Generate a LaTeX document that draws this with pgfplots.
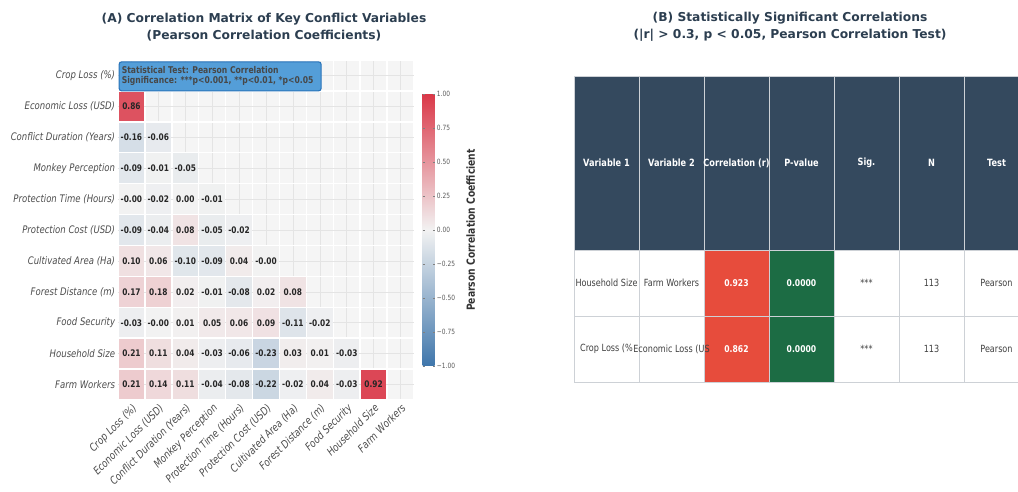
\documentclass[border=0pt]{standalone}
\usepackage{fontspec}
\setmainfont{DejaVu Sans}[FakeStretch=0.82]
\newfontfamily\titlefont{DejaVu Sans}
\usepackage{pgfplots}
\pgfplotsset{compat=1.18}
\usepackage{pgfplotstable}

\definecolor{titlec}{RGB}{44,62,80}
\definecolor{hdr}{RGB}{52,73,94}
\definecolor{cred}{RGB}{231,76,60}
\definecolor{cgreen}{RGB}{28,108,68}
\definecolor{tline}{RGB}{205,209,214}
\definecolor{boxfill}{RGB}{84,158,216}
\definecolor{boxdraw}{RGB}{40,115,185}
\definecolor{bgc}{RGB}{245,245,245}
\definecolor{gridc}{RGB}{228,228,228}

\pgfdeclareplotmark{cell}{\pgfpathrectangle{\pgfpoint{-9.55pt}{-11.05pt}}{\pgfpoint{19.1pt}{22.1pt}}\pgfusepathqfill}

\pgfplotstableread{
x y r lab
0 1 0.86 0.86
0 2 -0.16 -0.16
1 2 -0.06 -0.06
0 3 -0.09 -0.09
1 3 -0.01 -0.01
2 3 -0.05 -0.05
0 4 -0.00 -0.00
1 4 -0.02 -0.02
2 4 0.00 0.00
3 4 -0.01 -0.01
0 5 -0.09 -0.09
1 5 -0.04 -0.04
2 5 0.08 0.08
3 5 -0.05 -0.05
4 5 -0.02 -0.02
0 6 0.10 0.10
1 6 0.06 0.06
2 6 -0.10 -0.10
3 6 -0.09 -0.09
4 6 0.04 0.04
5 6 -0.00 -0.00
0 7 0.17 0.17
1 7 0.18 0.18
2 7 0.02 0.02
3 7 -0.01 -0.01
4 7 -0.08 -0.08
5 7 0.02 0.02
6 7 0.08 0.08
0 8 -0.03 -0.03
1 8 -0.00 -0.00
2 8 0.01 0.01
3 8 0.05 0.05
4 8 0.06 0.06
5 8 0.09 0.09
6 8 -0.11 -0.11
7 8 -0.02 -0.02
0 9 0.21 0.21
1 9 0.11 0.11
2 9 0.04 0.04
3 9 -0.03 -0.03
4 9 -0.06 -0.06
5 9 -0.23 -0.23
6 9 0.03 0.03
7 9 0.01 0.01
8 9 -0.03 -0.03
0 10 0.21 0.21
1 10 0.14 0.14
2 10 0.11 0.11
3 10 -0.04 -0.04
4 10 -0.08 -0.08
5 10 -0.22 -0.22
6 10 -0.02 -0.02
7 10 0.04 0.04
8 10 -0.03 -0.03
9 10 0.92 0.92
}\corr

\tikzset{hd/.style={font=\fontsize{7.5pt}{9pt}\selectfont\bfseries, text=white, inner sep=0pt},
  td/.style={font=\fontsize{7.4pt}{9pt}\selectfont, text=black!75, inner sep=0pt},
  tw/.style={font=\fontsize{7pt}{9pt}\selectfont\bfseries, text=white, inner sep=0pt},
  tl/.style={tline, line width=0.7pt}}

\begin{document}
\begin{tikzpicture}
% ---------------- (A) heatmap ----------------
\begin{axis}[
  at={(88.5pt,69pt)}, anchor=south west,
  scale only axis, width=222pt, height=255pt,
  xmin=-0.5, xmax=10.5, ymin=-0.5, ymax=10.5, y dir=reverse,
  axis line style={draw=none},
  axis background/.style={fill=bgc},
  xtick={0,...,10}, ytick={0,...,10},
  xticklabels={Crop Loss (\%),Economic Loss (USD),Conflict Duration (Years),Monkey Perception,Protection Time (Hours),Protection Cost (USD),Cultivated Area (Ha),Forest Distance (m),Food Security,Household Size,Farm Workers},
  yticklabels={Crop Loss (\%),Economic Loss (USD),Conflict Duration (Years),Monkey Perception,Protection Time (Hours),Protection Cost (USD),Cultivated Area (Ha),Forest Distance (m),Food Security,Household Size,Farm Workers},
  major tick length=0pt, minor tick length=0pt,
  minor xtick={-0.5,0.5,...,10.5}, minor ytick={-0.5,0.5,...,10.5},
  grid=both,
  major grid style={draw=gridc, line width=0.4pt},
  minor grid style={draw=white, line width=1.1pt},
  xticklabel style={rotate=45, anchor=north east, font=\fontsize{8.1pt}{9pt}\selectfont\itshape, text=black!70, inner sep=1.5pt},
  yticklabel style={font=\fontsize{7.8pt}{9pt}\selectfont\itshape, text=black!70, inner sep=2pt},
  colormap={corr}{rgb255(0cm)=(63,118,171); rgb255(1cm)=(242,242,242); rgb255(2cm)=(218,56,72)},
  point meta min=-1, point meta max=1,
  colorbar,
  colorbar shift/.style={},
  colorbar style={
    at={(parent axis.east)}, anchor=west, xshift=6.5pt,
    width=9pt, height=204pt,
    axis line style={draw=none},
    ytick={-1,-0.75,-0.5,-0.25,0,0.25,0.5,0.75,1},
    yticklabels={−1.00,−0.75,−0.50,−0.25,0.00,0.25,0.50,0.75,1.00},
    yticklabel style={font=\fontsize{5.4pt}{6pt}\selectfont, text=black!65, inner sep=1.5pt},
    major tick length=1.5pt,
    every tick/.style={draw=black!50, line width=0.3pt},
    ylabel={Pearson Correlation Coefficient},
    every axis y label/.style={at={(rel axis cs:1,0.5)}, xshift=27pt, rotate=90, anchor=center, font=\fontsize{8.4pt}{9pt}\selectfont\bfseries, text=black!80},
  },
]
\addplot[scatter, only marks, mark=cell, point meta=explicit,
  scatter/use mapped color={draw=none, fill=mapped color}]
  table[x=x, y=y, meta=r]{\corr};
\addplot[only marks, mark=none, point meta=explicit symbolic,
  nodes near coords, nodes near coords align={center},
  every node near coord/.append style={anchor=center, font=\fontsize{6.8pt}{8pt}\selectfont\bfseries, text=black!85, inner sep=0pt}]
  table[x=x, y=y, meta=lab]{\corr};
\draw[boxdraw, fill=boxfill, rounded corners=2pt, line width=0.8pt] (axis cs:-0.46,-0.44) rectangle (axis cs:7.05,0.5);
\node[anchor=west, align=left, font=\fontsize{7pt}{7.6pt}\selectfont\bfseries, text=black!72, inner sep=0pt] at (axis cs:-0.37,0.03) {Statistical Test: Pearson Correlation\\Significance: ***p<0.001, **p<0.01, *p<0.05};
\end{axis}

% ---------------- (B) table ----------------
\begin{axis}[
  at={(430.5pt,82.5pt)}, anchor=south west,
  scale only axis, width=341.25pt, height=229.5pt,
  xmin=0, xmax=7, ymin=0, ymax=306, hide axis, clip=false]
\addplot[draw=none, mark=none, forget plot] coordinates {(0,0) (7,306)};
\fill[hdr] (axis cs:0,132) rectangle (axis cs:7,306);
\fill[cred] (axis cs:2,0) rectangle (axis cs:3,132);
\fill[cgreen] (axis cs:3,0) rectangle (axis cs:4,132);
\draw[tl] (axis cs:0,0) -- (axis cs:0,306);
\draw[tl] (axis cs:1,0) -- (axis cs:1,306);
\draw[tl] (axis cs:2,0) -- (axis cs:2,306);
\draw[tl] (axis cs:3,0) -- (axis cs:3,306);
\draw[tl] (axis cs:4,0) -- (axis cs:4,306);
\draw[tl] (axis cs:5,0) -- (axis cs:5,306);
\draw[tl] (axis cs:6,0) -- (axis cs:6,306);
\draw[tl] (axis cs:7,0) -- (axis cs:7,306);
\draw[tl] (axis cs:0,0) -- (axis cs:7,0);
\draw[tl] (axis cs:0,66) -- (axis cs:7,66);
\draw[tl] (axis cs:0,132) -- (axis cs:7,132);
\draw[tl] (axis cs:0,306) -- (axis cs:7,306);
% header
\node[hd] at (axis cs:0.5,219) {Variable 1};
\node[hd] at (axis cs:1.5,219) {Variable 2};
\node[hd] at (axis cs:2.5,219) {Correlation (r)};
\node[hd] at (axis cs:3.5,219) {P-value};
\node[hd] at (axis cs:4.5,219) {Sig.};
\node[hd] at (axis cs:5.5,219) {N};
\node[hd] at (axis cs:6.5,219) {Test};
% row 1
\node[td] at (axis cs:0.5,99) {Household Size};
\node[td] at (axis cs:1.5,99) {Farm Workers};
\node[tw] at (axis cs:2.5,99) {0.923};
\node[tw] at (axis cs:3.5,99) {0.0000};
\node[td] at (axis cs:4.5,99) {***};
\node[td] at (axis cs:5.5,99) {113};
\node[td] at (axis cs:6.5,99) {Pearson};
% row 2
\node[td] at (axis cs:0.5,33) {Crop Loss (\%};
\node[td] at (axis cs:1.5,33) {Economic Loss (US};
\node[tw] at (axis cs:2.5,33) {0.862};
\node[tw] at (axis cs:3.5,33) {0.0000};
\node[td] at (axis cs:4.5,33) {***};
\node[td] at (axis cs:5.5,33) {113};
\node[td] at (axis cs:6.5,33) {Pearson};
\end{axis}

% titles
\node[align=center, font=\titlefont\fontsize{9.2pt}{12.75pt}\selectfont\bfseries, text=titlec] at (198pt,349pt) {(A) Correlation Matrix of Key Conflict Variables\\(Pearson Correlation Coefficients)};
\node[align=center, font=\titlefont\fontsize{9.2pt}{12.75pt}\selectfont\bfseries, text=titlec] at (592.5pt,349pt) {(B) Statistically Significant Correlations\\(|r| > 0.3, p < 0.05, Pearson Correlation Test)};

\pgfresetboundingbox
\useasboundingbox (0,0) rectangle (763.5pt,369pt);
\end{tikzpicture}
\end{document}
